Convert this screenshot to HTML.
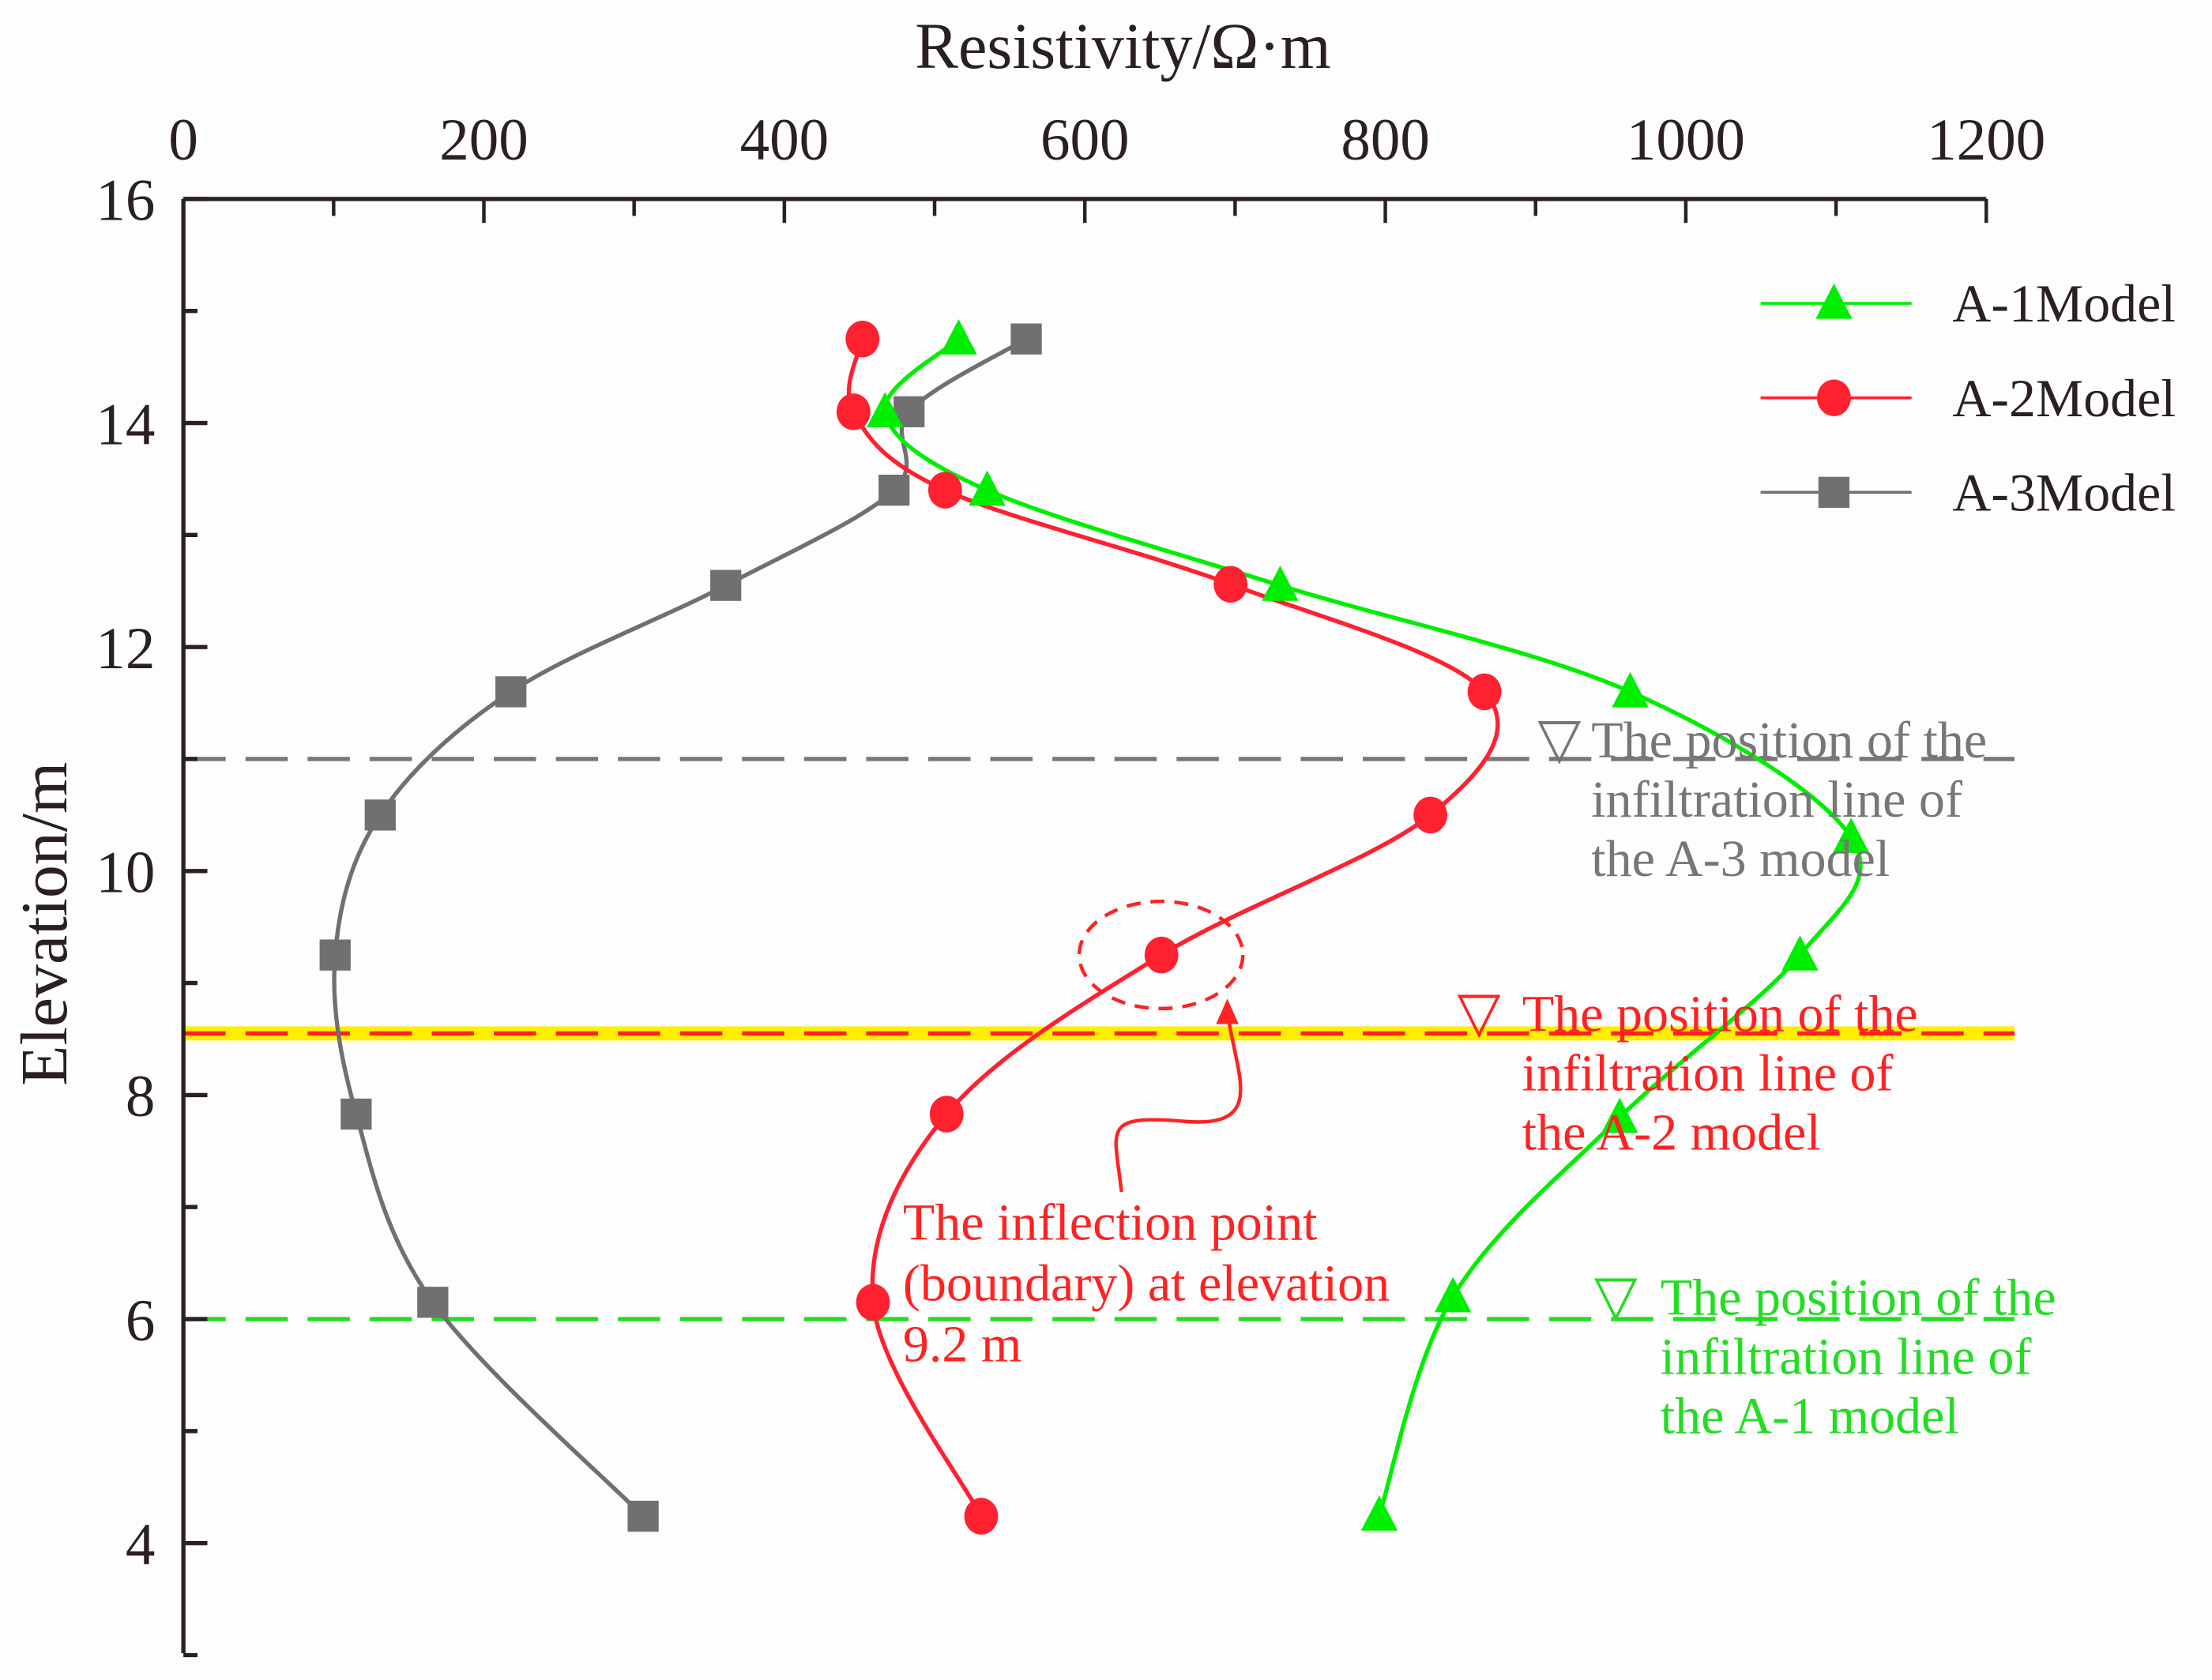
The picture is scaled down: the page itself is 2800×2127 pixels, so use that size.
<!DOCTYPE html>
<html><head><meta charset="utf-8"><style>
html,body{margin:0;padding:0;background:#fdfdfd;}
svg{display:block;font-family:"Liberation Serif",serif;}
</style></head><body>
<svg id="chart" width="2800" height="2127" viewBox="0 0 1568 1191" xmlns="http://www.w3.org/2000/svg">
<rect width="1568" height="1191" fill="#fdfdfd"/>
<g id="g"></g>
</svg>
<script>
const elevA1=[14.75,14.1,13.4,12.55,11.6,10.3,9.25,7.8,6.2,4.25];
const resA1=[516,467,535,730,963,1110,1076,956,845,796];
const elevA2=[14.75,14.1,13.4,12.56,11.6,10.5,9.25,7.83,6.15,4.24];
const resA2=[452,446,507,697,866,830,651,508,459,531];
const elevA3=[14.75,14.1,13.4,12.55,11.6,10.5,9.25,7.83,6.15,4.24];
const resA3=[561,483,473,361,218,131,101,115,166,306];
const xTicks=[0,200,400,600,800,1000,1200];
const yTicks=[4,6,8,10,12,14,16];
const infilElev=[11.0,8.55,6.0];

const X0=130,X1=1408,Y16=141,Y4=1094,YB=1172;
function sx(v){return X0+(v/1200)*(X1-X0);}
function sy(v){return Y16+(16-v)*(Y4-Y16)/12;}
const NS="http://www.w3.org/2000/svg";
const g=document.getElementById('g');
function mk(t,a,p){const e=document.createElementNS(NS,t);for(const k in a)e.setAttribute(k,a[k]);(p||g).appendChild(e);return e;}
function txt(s,a){const e=mk('text',a);e.textContent=s;return e;}

const infColors=['#777777','#ff2222','#22dd22'];
mk('rect',{x:X0,y:sy(infilElev[1])-5,width:1298,height:10,fill:'#ffee00',});
infilElev.forEach((e,i)=>{
  const l=mk('line',{x1:X0,x2:1428,y1:sy(e),y2:sy(e),stroke:infColors[i],'stroke-width':3,'stroke-dasharray':'30,14'});
  
  
});

mk('line',{x1:X0,x2:X1,y1:Y16,y2:Y16,stroke:'#2a2020','stroke-width':3,});
mk('line',{x1:X0,x2:X0,y1:Y16,y2:YB,stroke:'#2a2020','stroke-width':3,});
for(let v=0;v<=1200;v+=100){
  const major=v%200===0;
  mk('line',{x1:sx(v),x2:sx(v),y1:Y16,y2:Y16+(major?17:12),stroke:'#2a2020','stroke-width':2.5});
}
xTicks.forEach(v=>{const t=txt(String(v),{x:sx(v),y:113,'font-size':42,'text-anchor':'middle',fill:'#2a2020'});
});
for(let v=3;v<=16;v+=1){
  const major=v%2===0;
  mk('line',{x1:X0,x2:X0+(major?17:10),y1:sy(v),y2:sy(v),stroke:'#2a2020','stroke-width':3});
}
yTicks.forEach(v=>{const t=txt(String(v),{x:110,y:sy(v)+15,'font-size':42,'text-anchor':'end',fill:'#2a2020'});
});
txt('Resistivity/Ω·m',{x:796,y:48,'font-size':46,'text-anchor':'middle',fill:'#2a2020',});
txt('Elevation/m',{x:0,y:0,'font-size':47,'text-anchor':'middle',fill:'#2a2020',transform:'translate(47,655) rotate(-90)',});

function path(xs,ys){
  const p=xs.map((v,i)=>[sx(v),sy(ys[i])]);
  let d='M'+p[0][0]+','+p[0][1];
  for(let i=0;i<p.length-1;i++){
    const p0=p[Math.max(0,i-1)],p1=p[i],p2=p[i+1],p3=p[Math.min(p.length-1,i+2)];
    const c1=[p1[0]+(p2[0]-p0[0])/6,p1[1]+(p2[1]-p0[1])/6];
    const c2=[p2[0]-(p3[0]-p1[0])/6,p2[1]-(p3[1]-p1[1])/6];
    d+=' C'+c1+' '+c2+' '+p2;
  }
  return d;
}
const series=[[resA3,elevA3,'#707070','sq','a3'],[resA2,elevA2,'#ff2030','ci','a2'],[resA1,elevA1,'#00ee00','tr','a1']];
function marker(type,x,y,col,name){
  let e;
  if(type==='sq') e=mk('rect',{x:x-11,y:y-11,width:22,height:22,fill:col});
  else if(type==='ci') e=mk('ellipse',{cx:x,cy:y,rx:12,ry:13,fill:col});
  else e=mk('polygon',{points:`${x},${y-14} ${x-13},${y+11} ${x+13},${y+11}`,fill:col});
  
  
}
series.forEach(s=>{
  const l=mk('path',{d:path(s[0],s[1]),fill:'none',stroke:s[2],'stroke-width':3});
  
  
});
series.forEach(s=>{s[0].forEach((v,i)=>marker(s[3],sx(v),sy(s[1][i]),s[2],'point-'+s[4]));});

const leg=[['A-1Model','#00ee00','tr',215],['A-2Model','#ff2030','ci',282],['A-3Model','#707070','sq',349]];
leg.forEach(l=>{
  mk('line',{x1:1248,x2:1355,y1:l[3],y2:l[3],stroke:l[1],'stroke-width':2});
  marker(l[2],1300,l[3],l[1],'legend-marker');
  const t=txt(l[0],{x:1384,y:l[3]+13,'font-size':38,fill:'#2a2020'});
  
  
});

function ann(col,tx,ty,lx,lines,name){
  txt('▽',{x:tx,y:ty,'font-size':40,fill:col});
  lines.forEach((s,i)=>{const t=txt(s,{x:lx,y:ty+i*42,'font-size':37,fill:col});
  });
}
ann('#777777',1090,537,1128,['The position of the','infiltration line of','the A-3 model'],'annotation-a3');
ann('#ff2222',1033,731,1079,['The position of the','infiltration line of','the A-2 model'],'annotation-a2');
ann('#22dd22',1130,932,1177,['The position of the','infiltration line of','the A-1 model'],'annotation-a1');
mk('ellipse',{cx:823,cy:677,rx:58,ry:38,fill:'none',stroke:'#ff2222','stroke-width':2.5,'stroke-dasharray':'10,7',});
mk('path',{d:'M795,845 C790,800 780,790 840,795 C900,800 875,760 870,716',fill:'none',stroke:'#ff2222','stroke-width':2.5});
mk('polygon',{points:'870,708 862,726 878,726',fill:'#ff2222'});
['The inflection point','(boundary) at elevation','9.2 m'].forEach((s,i)=>{
  const t=txt(s,{x:640,y:879+i*43,'font-size':37,fill:'#ff2222'});
  
  
});
</script>
</body></html>
